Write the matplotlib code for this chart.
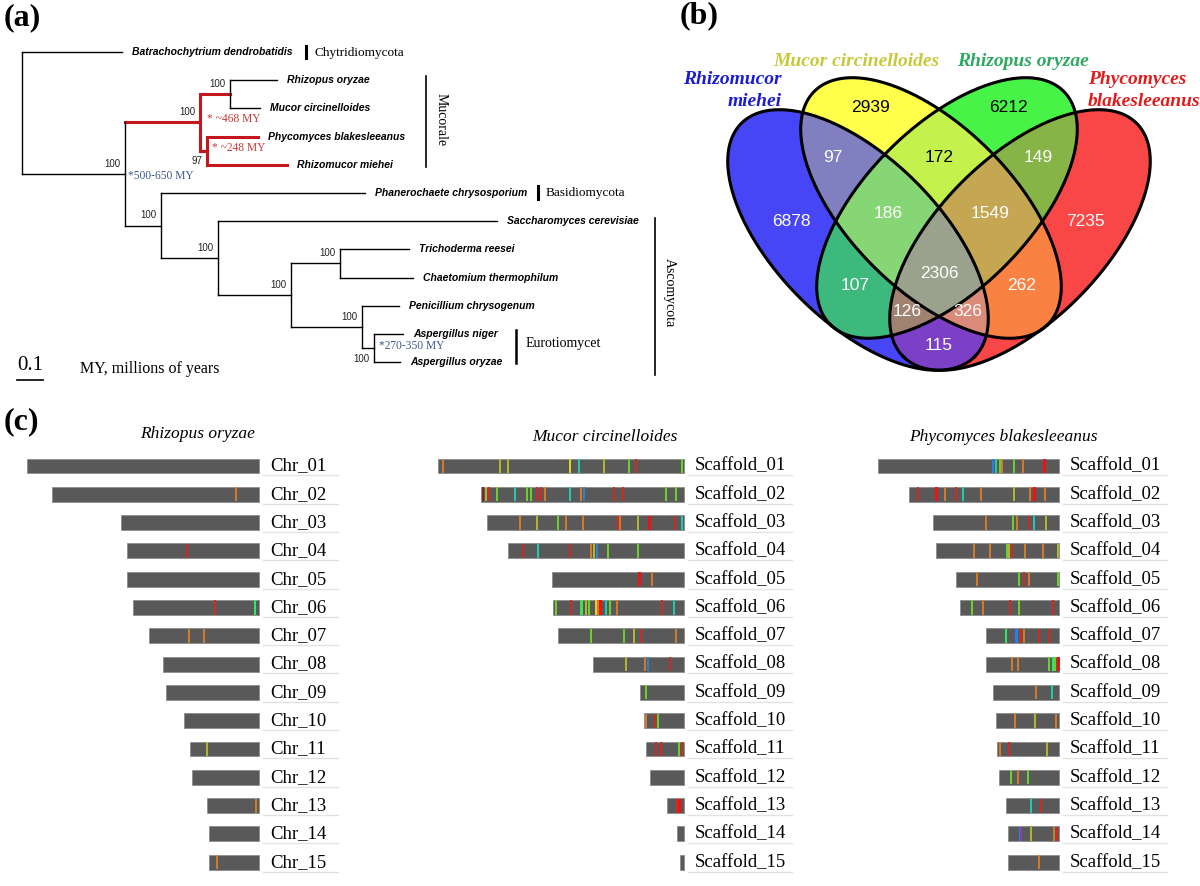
import numpy as np
import matplotlib
matplotlib.use('Agg')
import matplotlib.pyplot as plt

W, H = 1200, 886
SERIF = 'Liberation Serif'
SANS = 'Liberation Sans'

# ---------------- panel (a): phylogeny ----------------
leaf_names = ['Batrachochytrium dendrobatidis', 'Rhizopus oryzae', 'Mucor circinelloides',
              'Phycomyces blakesleeanus', 'Rhizomucor miehei', 'Phanerochaete chrysosporium',
              'Saccharomyces cerevisiae', 'Trichoderma reesei', 'Chaetomium thermophilum',
              'Penicillium chrysogenum', 'Aspergillus niger', 'Aspergillus oryzae']
leaf_depth = [0.385, 0.981, 0.915, 0.908, 1.019, 1.319, 1.827, 1.488, 1.504, 1.450, 1.465, 1.454]

node_names = ['n_rm', 'n_pr', 'n_muc', 'n_asp', 'n_pa', 'n_tc', 'n_pez', 'n_asc', 'n_dik', 'n_fun', 'root']
node_depth = [0.800, 0.712, 0.685, 1.354, 1.308, 1.223, 1.035, 0.754, 0.535, 0.396, 0.0]
node_children = [['Rhizopus oryzae', 'Mucor circinelloides'],
                 ['Phycomyces blakesleeanus', 'Rhizomucor miehei'],
                 ['n_rm', 'n_pr'],
                 ['Aspergillus niger', 'Aspergillus oryzae'],
                 ['Penicillium chrysogenum', 'n_asp'],
                 ['Trichoderma reesei', 'Chaetomium thermophilum'],
                 ['n_tc', 'n_pa'],
                 ['Saccharomyces cerevisiae', 'n_pez'],
                 ['Phanerochaete chrysosporium', 'n_asc'],
                 ['n_muc', 'n_dik'],
                 ['Batrachochytrium dendrobatidis', 'n_fun']]
node_support = ['100', '97', '100', '100', '100', '100', '100', '100', '100', '100', '']
red_clade = ['n_muc', 'n_rm', 'n_pr', 'Phycomyces blakesleeanus', 'Rhizomucor miehei']

# ---------------- panel (b): venn ----------------
venn_sets = ['Rhizomucor miehei', 'Mucor circinelloides', 'Rhizopus oryzae', 'Phycomyces blakesleeanus']
venn_regions = ['1000', '0100', '0010', '0001', '1100', '0110', '0011', '1110',
                '0111', '1111', '1010', '0101', '1011', '1101', '1001']
venn_counts = [6878, 2939, 6212, 7235, 97, 172, 149, 186, 1549, 2306, 107, 262, 126, 326, 115]

# ---------------- panel (c): chromosomes ----------------
ro_names = ['Chr_%02d' % i for i in range(1, 16)]
ro_len = [232, 207, 138, 132, 132, 126, 110, 96, 93, 75, 69, 67, 52, 50, 50]
ro_marks = [(1, 184, 'o'), (3, 60, 'r'), (5, 82, 'r'), (5, 122, 'G'), (6, 40, 'o'), (6, 55, 'o'),
            (10, 17, 'y'), (12, 49, 'o'), (14, 8, 'o')]

mc_names = ['Scaffold_%02d' % i for i in range(1, 16)]
mc_len = [246, 203, 197, 176, 132, 131, 126, 91, 44, 40, 38, 34, 17, 7, 4]
mc_marks = [
    (0, 5, 'o'), (0, 61.7, 'y'), (0, 69.7, 'y'), (0, 131.7, 'Y'), (0, 141.3, 'c'), (0, 166.3, 'y'),
    (0, 191, 'g'), (0, 198, 'r'), (0, 244, 'g'),
    (1, 1.7, 'd'), (1, 5, 'y'), (1, 8.3, 'r'), (1, 15.7, 'g'), (1, 34.3, 'c'), (1, 45.7, 'g'),
    (1, 49.7, 'g'), (1, 55.7, 'r'), (1, 60, 'r'), (1, 64, 'o'), (1, 89, 'c'), (1, 100, 'o'),
    (1, 103.3, 'b'), (1, 133.3, 'r'), (1, 142.3, 'r'), (1, 184.7, 'g'), (1, 195, 'g'),
    (2, 32.7, 'o'), (2, 50, 'y'), (2, 71, 'g'), (2, 79.3, 'o'), (2, 95.7, 'o'), (2, 131, 'r'),
    (2, 133.3, 'o'), (2, 151, 'y'), (2, 162.7, 'R'), (2, 188.3, 'r'), (2, 195, 'c'),
    (3, 15, 'r'), (3, 30, 'c'), (3, 61.7, 'r'), (3, 83, 'o'), (3, 85.7, 'y'), (3, 89, 'b'),
    (3, 100, 'g'), (3, 130, 'g'),
    (4, 87.3, 'R'), (4, 99.7, 'o'),
    (5, 2.7, 'g'), (5, 17.7, 'r'), (5, 27.7, 'g'), (5, 29.3, 'G'), (5, 33.3, 'y'), (5, 36, 'g'),
    (5, 43.3, 'Y'), (5, 45, 'o'), (5, 47, 'R'), (5, 53.3, 'c'), (5, 57.3, 'g'), (5, 64.3, 'o'),
    (5, 109.3, 'r'), (5, 121, 'c'),
    (6, 33, 'g'), (6, 65.7, 'g'), (6, 75.7, 'y'), (6, 83, 'r'), (6, 118.3, 'o'),
    (7, 33.3, 'y'), (7, 51.7, 'o'), (7, 55.3, 'b'), (7, 76.7, 'r'),
    (8, 6, 'g'),
    (9, 1.7, 'o'), (9, 10.7, 'r'), (9, 14.3, 'g'),
    (10, 10.3, 'r'), (10, 15, 'r'), (10, 33.3, 'g'), (10, 36, 'r'),
    (12, 10, 'r'), (12, 12.7, 'R')]

pb_names = ['Scaffold_%02d' % i for i in range(1, 16)]
pb_len = [181, 150, 126, 123, 103, 99, 73, 73, 66, 63, 62, 60, 53, 51, 51]
pb_marks = [
    (0, 114.7, 'b'), (0, 117.7, 'c'), (0, 122, 'g'), (0, 124.3, 'o'), (0, 136.3, 'g'),
    (0, 144.7, 'o'), (0, 166.7, 'R'),
    (1, 9.3, 'r'), (1, 27.3, 'R'), (1, 36, 'o'), (1, 47.3, 'r'), (1, 54, 'c'), (1, 71.7, 'o'),
    (1, 105.3, 'y'), (1, 121.3, 'o'), (1, 125.7, 'R'), (1, 135.7, 'o'),
    (2, 53.3, 'o'), (2, 80, 'g'), (2, 84, 'o'), (2, 95.7, 'r'), (2, 101, 'c'), (2, 113.3, 'y'),
    (3, 37.7, 'o'), (3, 53.7, 'o'), (3, 71, 'g'), (3, 73.3, 'y'), (3, 76, 'r'), (3, 88.7, 'o'),
    (3, 107.3, 'o'), (3, 121.7, 'y'),
    (4, 20.7, 'o'), (4, 63, 'g'), (4, 68, 'r'), (4, 73, 'o'), (4, 101.7, 'g'),
    (5, 12, 'g'), (5, 23.3, 'o'), (5, 50.3, 'r'), (5, 59, 'g'), (5, 93, 'r'),
    (6, 19.7, 'G'), (6, 30.7, 'B'), (6, 35, 'r'), (6, 38.3, 'o'), (6, 52.7, 'r'), (6, 63, 'r'),
    (7, 25.7, 'o'), (7, 32, 'o'), (7, 63, 'g'), (7, 67.3, 'G'), (7, 69.3, 'g'), (7, 72, 'R'),
    (8, 43, 'o'), (8, 58.7, 'c'),
    (9, 19.3, 'o'), (9, 39, 'y'), (9, 60.3, 'o'),
    (10, 2.7, 'o'), (10, 11.7, 'r'), (10, 50, 'y'),
    (11, 12.3, 'g'), (11, 19, 'o'), (11, 28.7, 'g'),
    (12, 24.7, 'c'), (12, 35, 'r'),
    (13, 11.7, 'b'), (13, 13.3, 'p'), (13, 23, 'y'), (13, 46, 'o'), (13, 48.7, 'r'),
    (14, 30.7, 'o')]

mark_colors = {'r': '#D02A22', 'R': '#F01212', 'o': '#D27A2C', 'y': '#B2B52C', 'Y': '#D8D81C',
               'g': '#6CD02C', 'G': '#2AE86A', 'c': '#22C8B0', 'b': '#2C80D8', 'B': '#2C7CF0',
               'p': '#8A3CA8', 'd': '#7A2A2A'}
mark_width = {'R': 3.0, 'B': 3.0}

fig = plt.figure(figsize=(W / 100, H / 100), dpi=100)


def px_axes(x0, y0, x1, y1):
    ax = fig.add_axes([x0 / W, 1 - y1 / H, (x1 - x0) / W, (y1 - y0) / H])
    ax.axis('off')
    return ax


def ftext(px, py, s, **kw):
    fig.text(px / W, 1 - py / H, s, **kw)


# panel letters
for lbl, px, py in [('(a)', 4, 18), ('(b)', 680, 16), ('(c)', 4, 422)]:
    ftext(px, py, lbl, family=SERIF, weight='bold', fontsize=23, va='center', ha='left')

# ---- tree ----
XS, X0 = 260.0, 22.0      # px per unit, px of root
YS, Y0 = 28.2, 52.0       # px per leaf row, px of first leaf
ax_a = px_axes(0, 0, 700, 400)
ax_a.set_xlim((0 - X0) / XS, (700 - X0) / XS)
ax_a.set_ylim((400 - Y0) / YS, (0 - Y0) / YS)

pos_x = dict(zip(leaf_names, leaf_depth))
pos_y = {n: i for i, n in enumerate(leaf_names)}
parent = {}
for name, d, ch in zip(node_names, node_depth, node_children):
    pos_x[name] = d
    pos_y[name] = (pos_y[ch[0]] + pos_y[ch[-1]]) / 2
    for c in ch:
        parent[c] = name

RED = '#C4161C'
for child, par in parent.items():
    col, lw = (RED, 2.2) if child in red_clade else ('black', 1.0)
    ax_a.plot([pos_x[par], pos_x[child]], [pos_y[child]] * 2, color=col, lw=lw,
              solid_capstyle='projecting')
for name, ch in zip(node_names, node_children):
    col, lw = (RED, 2.2) if name in ('n_muc', 'n_pr') else ('black', 1.0)
    ax_a.plot([pos_x[name]] * 2, [pos_y[ch[0]], pos_y[ch[-1]]], color=col, lw=lw,
              solid_capstyle='projecting')

for n in leaf_names:
    ax_a.text(pos_x[n] + 10 / XS, pos_y[n], n, family=SANS, weight='bold', style='italic',
              fontsize=7.5, va='center', ha='left')

for name, sup in zip(node_names, node_support):
    if not sup:
        continue
    dy = 0.38 if name in ('n_pr', 'n_asp') else -0.36
    ax_a.text(pos_x[name] - 5 / XS, pos_y[name] + dy, sup, family=SANS, fontsize=7,
              color='#222222', ha='right', va='center')


def tx(px):
    return (px - X0) / XS


def ty(py):
    return (py - Y0) / YS


# time annotations
for s, px, py, col in [('* ~468 MY', 207, 119, '#C83A3A'), ('* ~248 MY', 212, 148, '#C83A3A'),
                       ('*500-650 MY', 128, 176, '#3D5A8E'), ('*270-350 MY', 379, 346, '#3D5A8E')]:
    ax_a.text(tx(px), ty(py), s, family=SERIF, fontsize=8.3, color=col, ha='left', va='center')

# clade labels
for px, p0, p1, lw in [(306, 46, 58, 2.2), (538, 186, 199, 2.2), (516, 330, 363, 1.8),
                       (426, 76, 167, 1.2), (655, 218, 375, 1.2)]:
    ax_a.plot([tx(px)] * 2, [ty(p0), ty(p1)], color='black', lw=lw)
ax_a.text(tx(315), ty(53), 'Chytridiomycota', family=SERIF, fontsize=9.5, va='center')
ax_a.text(tx(546), ty(193), 'Basidiomycota', family=SERIF, fontsize=9.5, va='center')
ax_a.text(tx(526), ty(344), 'Eurotiomycet', family=SERIF, fontsize=10, va='center')
ax_a.text(tx(441), ty(120), 'Mucorale', family=SERIF, fontsize=10, va='center', ha='center',
          rotation=270)
ax_a.text(tx(669), ty(293), 'Ascomycota', family=SERIF, fontsize=10, va='center', ha='center',
          rotation=270)

# scale bar
ax_a.plot([tx(17), tx(17) + 0.1], [ty(380)] * 2, color='black', lw=1.2)
ax_a.text(tx(30), ty(366), '0.1', family=SERIF, fontsize=15, ha='center', va='center')
ax_a.text(tx(80), ty(369), 'MY, millions of years', family=SERIF, fontsize=11.5, va='center')

# ---- venn ----
ax_b = px_axes(620, 0, 1200, 400)
ax_b.set_xlim(620, 1200)
ax_b.set_ylim(400, 0)

r2 = np.sqrt(0.5)
ell_center = [(858, 240), (931, 208), (947, 208), (1020, 240)]
ell_dir = [(r2, r2), (r2, r2), (-r2, r2), (-r2, r2)]
ell_a, ell_b = 165, 82

region_color = {'1000': '#4646F8', '0100': '#FFFF4C', '0010': '#48F448', '0001': '#FA4646',
                '1100': '#8080C2', '0110': '#C6F24C', '0011': '#86B446', '1110': '#86D676',
                '0111': '#C6A652', '1111': '#9AA28C', '1010': '#3EBA7E', '0101': '#FA8242',
                '1011': '#A08270', '1101': '#DA8A7A', '1001': '#7C40C6'}

gx = np.arange(700, 1180, 0.5)
gy = np.arange(55, 392, 0.5)
XX, YY = np.meshgrid(gx, gy)
inside = []
for (cx, cy), (ux, uy) in zip(ell_center, ell_dir):
    du = (XX - cx) * ux + (YY - cy) * uy
    dv = -(XX - cx) * uy + (YY - cy) * ux
    inside.append((du / ell_a) ** 2 + (dv / ell_b) ** 2 <= 1)
img = np.zeros(XX.shape + (4,))
for code, col in region_color.items():
    m = np.ones(XX.shape, bool)
    for k, ch in enumerate(code):
        m &= inside[k] if ch == '1' else ~inside[k]
    img[m] = matplotlib.colors.to_rgba(col)
ax_b.imshow(img, extent=(gx[0], gx[-1], gy[-1], gy[0]), origin='upper', interpolation='bilinear',
            zorder=1, aspect='auto')
ax_b.set_xlim(620, 1200)
ax_b.set_ylim(400, 0)

t = np.linspace(0, 2 * np.pi, 500)
for (cx, cy), (ux, uy) in zip(ell_center, ell_dir):
    xe = cx + ell_a * np.cos(t) * ux - ell_b * np.sin(t) * uy
    ye = cy + ell_a * np.cos(t) * uy + ell_b * np.sin(t) * ux
    ax_b.plot(xe, ye, color='black', lw=2.2, zorder=3)

venn_label_pos = {'1000': (791, 221), '0100': (870, 108), '0010': (1008, 108), '0001': (1085, 221),
                  '1100': (833, 158), '0110': (939, 158), '0011': (1038, 158), '1110': (888, 213),
                  '0111': (990, 213), '1111': (939, 274), '1010': (855, 286), '0101': (1022, 286),
                  '1011': (907, 312), '1101': (968, 312), '1001': (939, 345)}
dark_text = ['0100', '0010', '0110']
for code, cnt in zip(venn_regions, venn_counts):
    x, y = venn_label_pos[code]
    ax_b.text(x, y, str(cnt), family=SANS, fontsize=12.5, ha='center', va='center', zorder=4,
              color='black' if code in dark_text else 'white')

set_style = dict(family=SERIF, weight='bold', style='italic', fontsize=14, va='center')
nm = venn_sets
ax_b.text(782, 79, nm[0].split()[0], color='#1C1CD2', ha='right', **set_style)
ax_b.text(782, 101, nm[0].split()[1], color='#1C1CD2', ha='right', **set_style)
ax_b.text(856, 62, nm[1], color='#C8C83A', ha='center', **set_style)
ax_b.text(1023, 62, nm[2], color='#2EA862', ha='center', **set_style)
ax_b.text(1088, 79, nm[3].split()[0], color='#E01C1C', ha='left', **set_style)
ax_b.text(1088, 101, nm[3].split()[1], color='#E01C1C', ha='left', **set_style)

# ---- chromosome panels ----
ROW0, ROWS = 466.0, 28.3
panels = [('Rhizopus oryzae', ro_names, ro_len, ro_marks, 0, 400, 259, 198, 434),
          ('Mucor circinelloides', mc_names, mc_len, mc_marks, 400, 820, 684, 605, 437),
          ('Phycomyces blakesleeanus', pb_names, pb_len, pb_marks, 820, 1200, 1059, 1003, 437)]
for title, names, lens, marks, x0, x1, xr, tcx, tcy in panels:
    ax = px_axes(x0, 440, x1, H)
    ax.set_xlim(x0 - xr, x1 - xr)
    ax.set_ylim((H - ROW0) / ROWS, (440 - ROW0) / ROWS)
    rows = np.arange(len(names))
    lens = np.array(lens, float)
    ax.barh(rows, lens, left=-lens, height=0.53, color='#595959', edgecolor='#8c8c8c', lw=0.6,
            zorder=2)
    for r, p, c in marks:
        w = mark_width.get(c, 2.0)
        ax.bar(-lens[r] + p, 0.5, bottom=r - 0.25, width=w, color=mark_colors[c], lw=0, zorder=3)
    for r, n in enumerate(names):
        ax.text(11, r, n, family=SERIF, fontsize=13.5, va='center', ha='left')
        ax.plot([4, 108 if n.startswith('S') else 79], [r + 0.33] * 2, color='#e2e2e2', lw=1)
    ftext(tcx, tcy, title, family=SERIF, style='italic', fontsize=12.5, ha='center', va='center')

fig.savefig('out.png', dpi=100)
